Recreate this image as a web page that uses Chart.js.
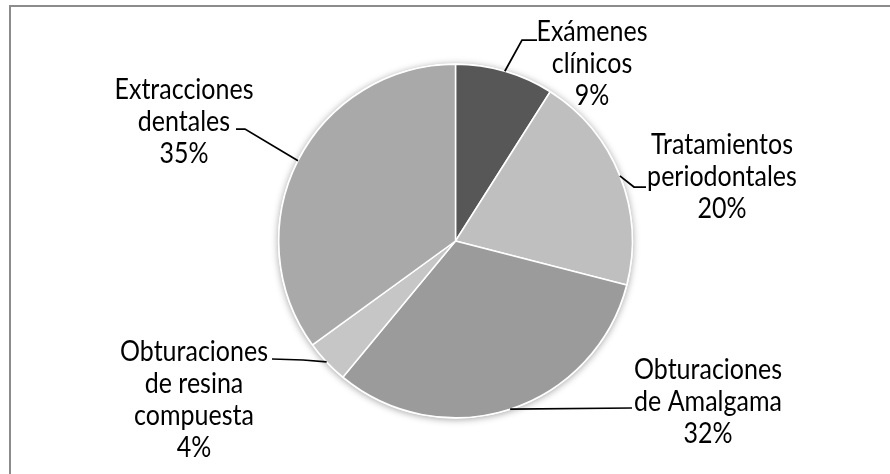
<!DOCTYPE html>
<html>
<head>
<meta charset="utf-8">
<script src="https://cdn.jsdelivr.net/npm/chart.js@4"></script>
<style>
  html, body { margin: 0; padding: 0; background: #ffffff; }
  #wrap { position: relative; width: 890px; height: 474px; overflow: hidden; }
  #frame { position: absolute; left: 9px; top: 5px; width: 900px; height: 500px; border: 2px solid #8c8c8c; box-sizing: border-box; pointer-events: none; }
  canvas { position: absolute; left: 0; top: 0; }
</style>
</head>
<body>
<div id="wrap">
  <canvas id="c" width="890" height="474"></canvas>
  <div id="frame"></div>
</div>
<script>
// ---- data ----
const categories = ['Exámenes clínicos', 'Tratamientos periodontales', 'Obturaciones de Amalgama', 'Obturaciones de resina compuesta', 'Extracciones dentales'];
const categoryLines = [['Exámenes', 'clínicos'], ['Tratamientos', 'periodontales'], ['Obturaciones', 'de Amalgama'], ['Obturaciones', 'de resina', 'compuesta'], ['Extracciones', 'dentales']];
const values = [9, 20, 32, 4, 35];
const sliceColors = ['#575757', '#bfbfbf', '#9b9b9b', '#c6c6c6', '#a9a9a9'];

// ---- label layout (annotation positions) ----
const labelLayout = [
  { cx: 592, y0: 32,  knee: [522, 40],  end: [537, 40] },
  { cx: 722, y0: 145, knee: [634, 187], end: [646, 187] },
  { cx: 708, y0: 370, knee: null,       end: [632, 408] },
  { cx: 194, y0: 352, knee: [303, 360], end: [272, 359] },
  { cx: 184, y0: 90,  knee: [245, 129], end: [236, 129] }
];
const LINE_H = 32;
const FONT = '25px Lato, "Open Sans", sans-serif';
const TEXT_STRETCH = 1.12;

const shadowPlugin = {
  id: 'pieShadow',
  beforeDatasetsDraw(chart) {
    const arc = chart.getDatasetMeta(0).data[0];
    if (!arc) return;
    const ctx = chart.ctx;
    ctx.save();
    ctx.shadowColor = 'rgba(0,0,0,0.35)';
    ctx.shadowBlur = 7;
    ctx.shadowOffsetX = 0;
    ctx.shadowOffsetY = 1;
    ctx.fillStyle = '#ffffff';
    ctx.beginPath();
    ctx.arc(arc.x, arc.y, arc.outerRadius + 1, 0, Math.PI * 2);
    ctx.fill();
    ctx.restore();
  }
};

const labelPlugin = {
  id: 'pieLabels',
  afterDatasetsDraw(chart) {
    const ctx = chart.ctx;
    const meta = chart.getDatasetMeta(0);
    meta.data.forEach((arc, i) => {
      const L = labelLayout[i];
      const mid = (arc.startAngle + arc.endAngle) / 2;
      const px = arc.x + Math.cos(mid) * arc.outerRadius;
      const py = arc.y + Math.sin(mid) * arc.outerRadius;
      ctx.save();
      ctx.strokeStyle = '#000000';
      ctx.lineWidth = 1.75;
      ctx.beginPath();
      ctx.moveTo(px, py);
      if (L.knee) ctx.lineTo(L.knee[0], L.knee[1]);
      ctx.lineTo(L.end[0], L.end[1]);
      ctx.stroke();
      ctx.restore();

      const lines = categoryLines[i].concat([values[i] + '%']);
      lines.forEach((t, k) => {
        ctx.save();
        ctx.translate(L.cx, L.y0 + k * LINE_H);
        ctx.scale(1, TEXT_STRETCH);
        ctx.fillStyle = '#000000';
        ctx.font = FONT;
        ctx.textAlign = 'center';
        ctx.textBaseline = 'middle';
        ctx.fillText(t, 0, 0);
        ctx.restore();
      });
    });
  }
};

new Chart(document.getElementById('c'), {
  type: 'pie',
  data: {
    labels: categories,
    datasets: [{
      data: values,
      backgroundColor: sliceColors,
      borderColor: '#ffffff',
      borderWidth: 1.5
    }]
  },
  options: {
    responsive: false,
    animation: false,
    layout: { padding: { left: 278, right: 257, top: 63.5, bottom: 55.5 } },
    plugins: {
      legend: { display: false },
      tooltip: { enabled: false }
    }
  },
  plugins: [shadowPlugin, labelPlugin]
});
</script>
</body>
</html>
